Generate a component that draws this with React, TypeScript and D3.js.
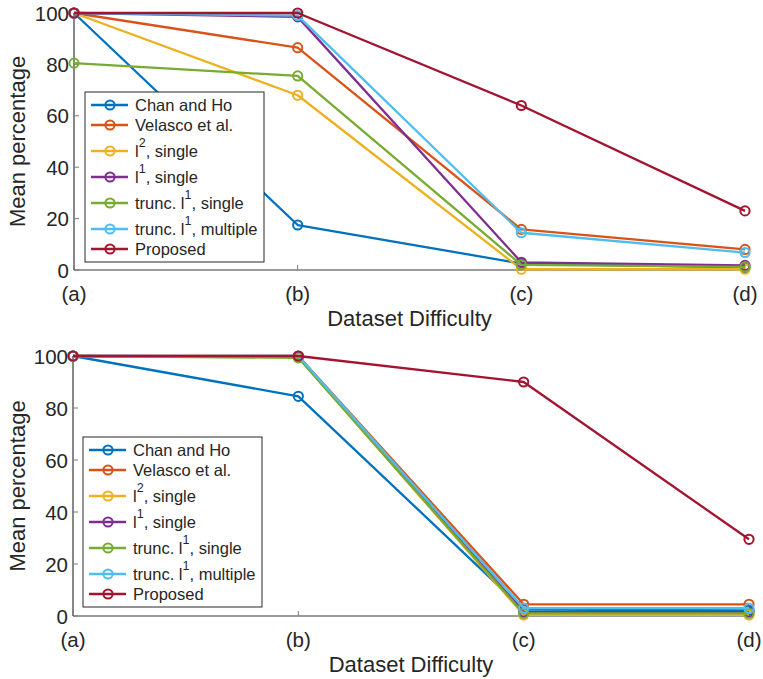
import React from "react";
import * as d3 from "d3";

// Categories along the x axis
const categories = ["(a)", "(b)", "(c)", "(d)"];
const yTicks = [0, 20, 40, 60, 80, 100];

// Series names (legend) — superscript part kept separately
const seriesNames = [
  { base: "Chan and Ho", sup: "", rest: "" },
  { base: "Velasco et al.", sup: "", rest: "" },
  { base: "l", sup: "2", rest: ", single" },
  { base: "l", sup: "1", rest: ", single" },
  { base: "trunc. l", sup: "1", rest: ", single" },
  { base: "trunc. l", sup: "1", rest: ", multiple" },
  { base: "Proposed", sup: "", rest: "" },
];
const colors = ["#0072BD", "#D95319", "#EDB120", "#7E2F8E", "#77AC30", "#4DBEEE", "#A2142F"];

// Upper panel values per series
const topChanHo = [100, 17.5, 2.5, 1];
const topVelasco = [100, 86.5, 15.8, 8];
const topL2Single = [100, 68, 0.3, 0.3];
const topL1Single = [100, 98.5, 3, 1.8];
const topTruncSingle = [80.5, 75.5, 2, 1.2];
const topTruncMultiple = [100, 99, 14.5, 6.8];
const topProposed = [100, 100, 64, 23];

// Lower panel values per series
const botChanHo = [100, 84.5, 2.5, 2.2];
const botVelasco = [100, 100, 4.5, 4.5];
const botL2Single = [100, 99.5, 0.4, 0.4];
const botL1Single = [100, 99.8, 1.5, 1.5];
const botTruncSingle = [100, 99.3, 1, 1];
const botTruncMultiple = [100, 100, 3, 3];
const botProposed = [100, 100, 90, 29.5];

const topSeries = [topChanHo, topVelasco, topL2Single, topL1Single, topTruncSingle, topTruncMultiple, topProposed];
const botSeries = [botChanHo, botVelasco, botL2Single, botL1Single, botTruncSingle, botTruncMultiple, botProposed];

const FONT = "'Liberation Sans', Arial, Helvetica, sans-serif";
const TEXT = "#262626";

type PanelProps = {
  data: number[][];
  left: number;
  right: number;
  top: number;
  bottom: number;
  legendX: number;
  legendY: number;
};

function Panel({ data, left, right, top, bottom, legendX, legendY }: PanelProps) {
  const x = d3.scalePoint<string>().domain(categories).range([left, right]);
  const y = d3.scaleLinear().domain([0, 100]).range([bottom, top]);
  const line = d3
    .line<number>()
    .x((_, i) => x(categories[i]) as number)
    .y((v) => y(v));

  // legend rows: rows with superscripts are taller
  const rowH = seriesNames.map((s) => (s.sup ? 26 : 20));
  const pad = 3;
  let acc = legendY + pad;
  const rowCenters = rowH.map((h) => {
    acc += h;
    return acc - 10;
  });
  const legendH = pad * 2 + d3.sum(rowH);
  const legendW = 179;

  return (
    <g>
      {/* axes */}
      <line x1={left} x2={right} y1={bottom} y2={bottom} stroke="#7a7a7a" strokeWidth={1.3} />
      <line x1={left} x2={left} y1={top} y2={bottom} stroke="#262626" strokeWidth={1.1} />
      {yTicks.map((t) => (
        <g key={t}>
          <line x1={left} x2={left + 5} y1={y(t)} y2={y(t)} stroke="#7a7a7a" strokeWidth={1} />
          <text
            x={left - 5}
            y={y(t)}
            textAnchor="end"
            dominantBaseline="central"
            fontSize={20.5}
            fontFamily={FONT}
            fill={TEXT}
          >
            {t}
          </text>
        </g>
      ))}
      {categories.map((c) => (
        <g key={c}>
          <line x1={x(c)} x2={x(c)} y1={bottom} y2={bottom - 5} stroke="#7a7a7a" strokeWidth={1} />
          <text
            x={x(c)}
            y={bottom + 23}
            textAnchor="middle"
            dominantBaseline="central"
            fontSize={20.5}
            fontFamily={FONT}
            fill={TEXT}
          >
            {c}
          </text>
        </g>
      ))}
      <text
        x={(left + right) / 2}
        y={bottom + 48}
        textAnchor="middle"
        dominantBaseline="central"
        fontSize={22}
        fontFamily={FONT}
        fill={TEXT}
      >
        Dataset Difficulty
      </text>
      <text
        transform={`translate(17,${(top + bottom) / 2}) rotate(-90)`}
        textAnchor="middle"
        dominantBaseline="central"
        fontSize={22}
        fontFamily={FONT}
        fill={TEXT}
      >
        Mean percentage
      </text>

      {/* series */}
      {data.map((vals, si) => (
        <g key={si}>
          <path d={line(vals) ?? ""} fill="none" stroke={colors[si]} strokeWidth={2.3} strokeLinejoin="round" />
          {vals.map((v, i) => (
            <circle
              key={i}
              cx={x(categories[i])}
              cy={y(v)}
              r={4.6}
              fill="none"
              stroke={colors[si]}
              strokeWidth={2}
            />
          ))}
        </g>
      ))}

      {/* legend */}
      <rect
        x={legendX}
        y={legendY}
        width={legendW}
        height={legendH}
        fill="#ffffff"
        stroke="#262626"
        strokeWidth={1}
      />
      {seriesNames.map((s, i) => {
        const cy = rowCenters[i];
        return (
          <g key={i}>
            <line x1={legendX + 6} x2={legendX + 43} y1={cy} y2={cy} stroke={colors[i]} strokeWidth={2.3} />
            <circle cx={legendX + 25} cy={cy} r={4.6} fill="none" stroke={colors[i]} strokeWidth={2} />
            <text
              x={legendX + 50}
              y={cy}
              dominantBaseline="central"
              fontSize={16.5}
              fontFamily={FONT}
              fill={TEXT}
            >
              {s.base}
              {s.sup ? (
                <>
                  <tspan dy={-8} fontSize={12.5}>
                    {s.sup}
                  </tspan>
                  <tspan dy={8}>{s.rest}</tspan>
                </>
              ) : null}
            </text>
          </g>
        );
      })}
    </g>
  );
}

export default function App() {
  return (
    <svg
      width={763}
      height={679}
      style={{ position: "absolute", left: 0, top: 0, background: "#ffffff" }}
    >
      <rect width={763} height={679} fill="#ffffff" />
      <Panel data={topSeries} left={74} right={745} top={13} bottom={270} legendX={85} legendY={92} />
      <Panel data={botSeries} left={73} right={749} top={356} bottom={616} legendX={83} legendY={437} />
    </svg>
  );
}
